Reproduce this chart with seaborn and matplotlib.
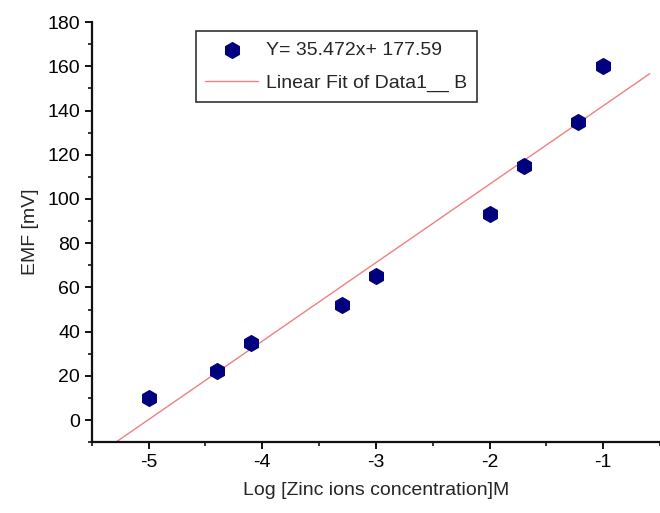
import numpy as np
import pandas as pd
import matplotlib
matplotlib.use('Agg')
import matplotlib.pyplot as plt
import seaborn as sns
from matplotlib.ticker import MultipleLocator

sns.set_style('ticks')
plt.rcParams['font.family'] = ['Liberation Sans', 'DejaVu Sans']
plt.rcParams['axes.unicode_minus'] = False

# data
log_conc = [-5.0, -4.4, -4.1, -3.3, -3.0, -2.0, -1.7, -1.22, -1.0]
emf = [10, 22, 35, 52, 65, 93, 115, 135, 160]
slope, intercept = 35.472, 177.59
fit_x = [-5.5, -0.59]

df = pd.DataFrame({'x': log_conc, 'y': emf})
fit_df = pd.DataFrame({'x': fit_x, 'y': [slope * v + intercept for v in fit_x]})

fig = plt.figure(figsize=(6.6, 5.13), dpi=100)
ax = fig.add_axes([0.139, 0.138, 0.861, 0.819])

sns.lineplot(data=fit_df, x='x', y='y', ax=ax, color='#f08080', linewidth=1,
             label='Linear Fit of Data1__ B', zorder=2)
sns.scatterplot(data=df, x='x', y='y', ax=ax, marker='h', s=130, color='#00007f',
                edgecolor='#00007f', label=f'Y= {slope}x+ {intercept}', zorder=3)

ax.set_xlim(-5.5, -0.5)
ax.set_ylim(-10, 180)
ax.xaxis.set_major_locator(MultipleLocator(1))
ax.xaxis.set_minor_locator(MultipleLocator(0.5))
ax.yaxis.set_major_locator(MultipleLocator(20))
ax.yaxis.set_minor_locator(MultipleLocator(10))
ax.set_yticks(range(0, 181, 20))
ax.tick_params(which='major', length=5, width=1.3, labelsize=14, colors='black')
ax.tick_params(which='minor', length=3, width=1.3)

for side in ['top', 'right']:
    ax.spines[side].set_visible(False)
for side in ['left', 'bottom']:
    ax.spines[side].set_linewidth(1.6)
    ax.spines[side].set_color('#111111')

ax.set_xlabel('Log [Zinc ions concentration]M', fontsize=14, labelpad=8)
ax.set_ylabel('EMF [mV]', fontsize=14, labelpad=6)

handles, labels = ax.get_legend_handles_labels()
leg = ax.legend(handles[::-1], labels[::-1], loc='upper left', bbox_to_anchor=(0.183, 0.978),
                fontsize=14, frameon=True, fancybox=False, edgecolor='black',
                handlelength=2.7, handletextpad=0.4, borderpad=0.5, labelspacing=0.8,
                borderaxespad=0)
leg.get_frame().set_linewidth(1.2)

fig.savefig('out.png', dpi=100)
